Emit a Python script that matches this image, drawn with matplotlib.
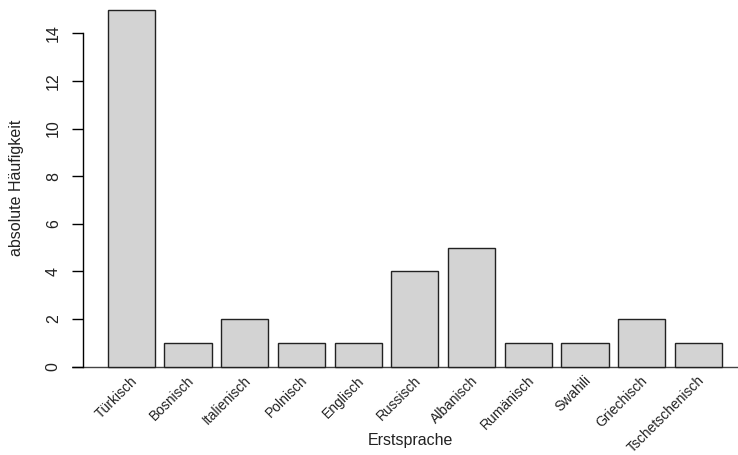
import matplotlib
matplotlib.use("Agg")
import matplotlib.pyplot as plt
import numpy as np

# Häufigkeiten der Erstsprachen
sprachen = ["Türkisch", "Bosnisch", "Italienisch", "Polnisch", "Englisch",
            "Russisch", "Albanisch", "Rumänisch", "Swahili", "Griechisch",
            "Tschetschenisch"]
anzahl = [15, 1, 2, 1, 1, 4, 5, 1, 1, 2, 1]
y_ticks = [0, 2, 4, 6, 8, 10, 12, 14]

plt.rcParams["font.family"] = ["Liberation Sans", "DejaVu Sans"]

W, H = 738, 455
fig = plt.figure(figsize=(W / 100, H / 100), dpi=100)
ax = fig.add_axes([72 / W, 75 / H, 666 / W, 375 / H])

# Balken wie bei R barplot: Breite 1, Abstand 0.2
breite = 1.0
abstand = 0.2
x = abstand + np.arange(len(anzahl)) * (breite + abstand) + breite / 2
ax.bar(x, anzahl, width=breite, color="#d3d3d3", edgecolor="#222222",
       linewidth=1.0, zorder=2)

ax.set_xlim(-0.556, 13.54)
ax.set_ylim(-0.567, 15.195)

# Nulllinie über die ganze Breite
ax.axhline(0, color="#444444", linewidth=1.0, zorder=1)

for s in ["top", "right", "bottom"]:
    ax.spines[s].set_visible(False)
ax.spines["left"].set_position(("data", -0.323))
ax.spines["left"].set_bounds(0, 14)
ax.spines["left"].set_linewidth(1.0)

ax.set_yticks(y_ticks)
ax.set_yticklabels([str(v) for v in y_ticks], rotation=90, va="center",
                   fontsize=11.5, color="#222222")
ax.tick_params(axis="y", length=8, width=1.0, pad=8)
ax.set_xticks([])

for xi, name in zip(x, sprachen):
    ax.text(xi + 0.08, -0.5, name, rotation=45, rotation_mode="anchor",
            ha="right", va="center", fontsize=10, color="#222222",
            clip_on=False)

fig.text(17 / W, 1 - 188 / H, "absolute Häufigkeit", rotation=90,
         ha="center", va="center", fontsize=11.5, color="#222222")
fig.text(410 / W, 1 - 440 / H, "Erstsprache", ha="center", va="center",
         fontsize=11.5, color="#222222")

fig.savefig("out.png", dpi=100)
